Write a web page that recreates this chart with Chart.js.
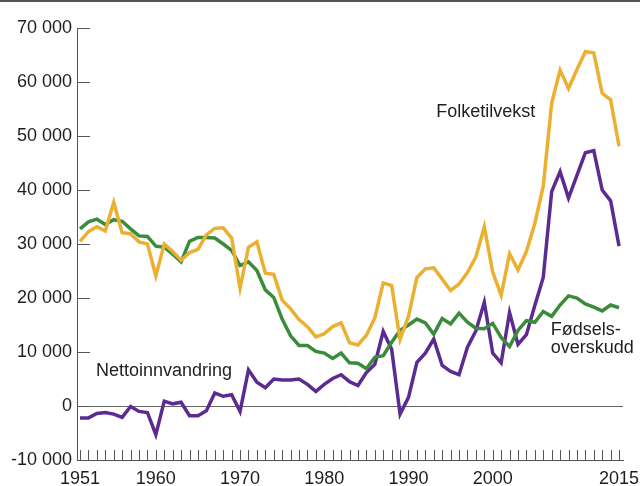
<!DOCTYPE html>
<html>
<head>
<meta charset="utf-8">
<script src="https://cdn.jsdelivr.net/npm/chart.js@4.4.0/dist/chart.umd.min.js"></script>
<style>
  body { margin: 0; background: #fff; }
  canvas { display: block; }
</style>
</head>
<body>
<canvas id="befolkning" width="640" height="486"></canvas>
<script>
  // År 1951-2015
  const years = [
    1951, 1952, 1953, 1954, 1955, 1956, 1957, 1958, 1959,
    1960, 1961, 1962, 1963, 1964, 1965, 1966, 1967, 1968, 1969,
    1970, 1971, 1972, 1973, 1974, 1975, 1976, 1977, 1978, 1979,
    1980, 1981, 1982, 1983, 1984, 1985, 1986, 1987, 1988, 1989,
    1990, 1991, 1992, 1993, 1994, 1995, 1996, 1997, 1998, 1999,
    2000, 2001, 2002, 2003, 2004, 2005, 2006, 2007, 2008, 2009,
    2010, 2011, 2012, 2013, 2014, 2015
  ];

  const folketilvekst = [
    30500, 32300, 33200, 32400, 37700, 32100, 31900, 30400, 30000,
    24100, 30000, 28600, 27000, 28400, 29000, 31700, 32900, 33000, 31100,
    21800, 29400, 30400, 24600, 24400, 19600, 18000, 16000, 14700, 12800,
    13400, 14700, 15400, 11700, 11300, 13100, 16300, 22800, 22300, 12300,
    16600, 23800, 25400, 25600, 23500, 21400, 22600, 24700, 27600, 33200,
    24800, 20500, 28200, 25200, 28600, 33800, 40700, 56100, 62200, 58800,
    62300, 65600, 65400, 57900, 56700, 48100
  ];

  const nettoinnvandring = [
    -2200, -2200, -1400, -1200, -1500, -2100, -100, -1000, -1200,
    -5300, 900, 400, 700, -1800, -1800, -900, 2400, 1800, 2100,
    -1000, 6700, 4400, 3400, 5000, 4800, 4800, 5000, 4000, 2700,
    4000, 5100, 5800, 4500, 3800, 6200, 7700, 13800, 10500, -1500,
    1600, 8100, 9800, 12400, 7500, 6400, 5800, 10900, 13900, 19200,
    9800, 8000, 17300, 11400, 13200, 18600, 23800, 39700, 43400, 38500,
    42700, 46900, 47300, 40000, 38000, 29600
  ];

  const fodselsoverskudd = [
    32800, 34100, 34600, 33600, 34500, 34200, 32800, 31500, 31400,
    29600, 29400, 28100, 26700, 30500, 31200, 31200, 31100, 30000, 28800,
    26000, 26700, 25100, 21500, 20100, 16100, 13000, 11200, 11200, 10100,
    9800, 8800, 9800, 8000, 7900, 6900, 9000, 9300, 11800, 14000,
    15000, 16100, 15400, 13300, 16200, 15200, 17200, 15500, 14400, 14300,
    15300, 12700, 11000, 14000, 15800, 15500, 17500, 16600, 18700, 20400,
    20000, 18900, 18300, 17600, 18700, 18200
  ];

  const xTickLabels = [1951, 1960, 1970, 1980, 1990, 2000, 2015];
  const yTicks = [-10000, 0, 10000, 20000, 30000, 40000, 50000, 60000, 70000];

  const FONT = "'Liberation Sans', Arial, sans-serif";
  const TEXT = '#1e1e1e';

  const points = vals => years.map((y, i) => ({ x: y, y: vals[i] }));

  // etiketter i plottet + små merker innover på aksene
  const extras = {
    id: 'extras',
    afterDraw(chart) {
      const { ctx, chartArea, scales: { x, y } } = chart;
      ctx.save();
      ctx.strokeStyle = '#555';
      ctx.lineWidth = 1;
      ctx.beginPath();
      years.forEach(yr => {
        const px = Math.round(x.getPixelForValue(yr)) + 0.5;
        ctx.moveTo(px, chartArea.bottom);
        ctx.lineTo(px, chartArea.bottom - 10);
      });
      yTicks.forEach(v => {
        const py = Math.round(y.getPixelForValue(v)) + 0.5;
        ctx.moveTo(chartArea.left, py);
        ctx.lineTo(chartArea.left + 13, py);
      });
      ctx.stroke();

      // ramme øverst
      ctx.fillStyle = '#555';
      ctx.fillRect(0, 0, chart.width, 2);

      ctx.fillStyle = TEXT;
      ctx.font = '18px ' + FONT;
      ctx.textBaseline = 'middle';
      ctx.textAlign = 'left';
      ctx.fillText('Folketilvekst', x.getPixelForValue(1993.3), y.getPixelForValue(54400));
      ctx.fillText('Nettoinnvandring', x.getPixelForValue(1952.9), y.getPixelForValue(6500));
      ctx.fillText('Fødsels-', x.getPixelForValue(2006.9), y.getPixelForValue(14100));
      ctx.fillText('overskudd', x.getPixelForValue(2006.9), y.getPixelForValue(10700));
      ctx.restore();
    }
  };

  const line = (label, vals, color) => ({
    label,
    data: points(vals),
    borderColor: color,
    borderWidth: 3.5,
    pointRadius: 0,
    tension: 0,
    fill: false
  });

  new Chart(document.getElementById('befolkning'), {
    type: 'line',
    data: {
      datasets: [
        line('Folketilvekst', folketilvekst, '#ebb030'),
        line('Fødselsoverskudd', fodselsoverskudd, '#3a8c3c'),
        line('Nettoinnvandring', nettoinnvandring, '#5c2b91')
      ]
    },
    options: {
      responsive: false,
      animation: false,
      layout: { padding: { top: 28, right: 17, left: 0, bottom: 0 } },
      plugins: { legend: { display: false }, tooltip: { enabled: false } },
      scales: {
        x: {
          type: 'linear',
          min: 1950.64,
          max: 2015.47,
          afterFit(s) { s.height = 26; },
          afterBuildTicks(s) { s.ticks = xTickLabels.map(v => ({ value: v })); },
          grid: { display: false },
          border: { display: true, color: '#555', width: 1 },
          ticks: {
            autoSkip: false,
            maxRotation: 0,
            padding: 0,
            color: TEXT,
            font: { family: FONT, size: 18 },
            callback: v => String(v)
          }
        },
        y: {
          min: -10000,
          max: 70000,
          afterFit(s) { s.width = 77; },
          afterBuildTicks(s) { s.ticks = yTicks.map(v => ({ value: v })); },
          grid: {
            drawTicks: false,
            color: ctx => ctx.tick && ctx.tick.value === 0 ? '#666' : 'rgba(0,0,0,0)',
            lineWidth: 1
          },
          border: { display: true, color: '#555', width: 1 },
          ticks: {
            padding: 5,
            color: TEXT,
            font: { family: FONT, size: 18 },
            callback: v => String(Math.abs(v)).replace(/\B(?=(\d{3})+(?!\d))/g, ' ').replace(/^/, v < 0 ? '-' : '')
          }
        }
      }
    },
    plugins: [extras]
  });
</script>
</body>
</html>
